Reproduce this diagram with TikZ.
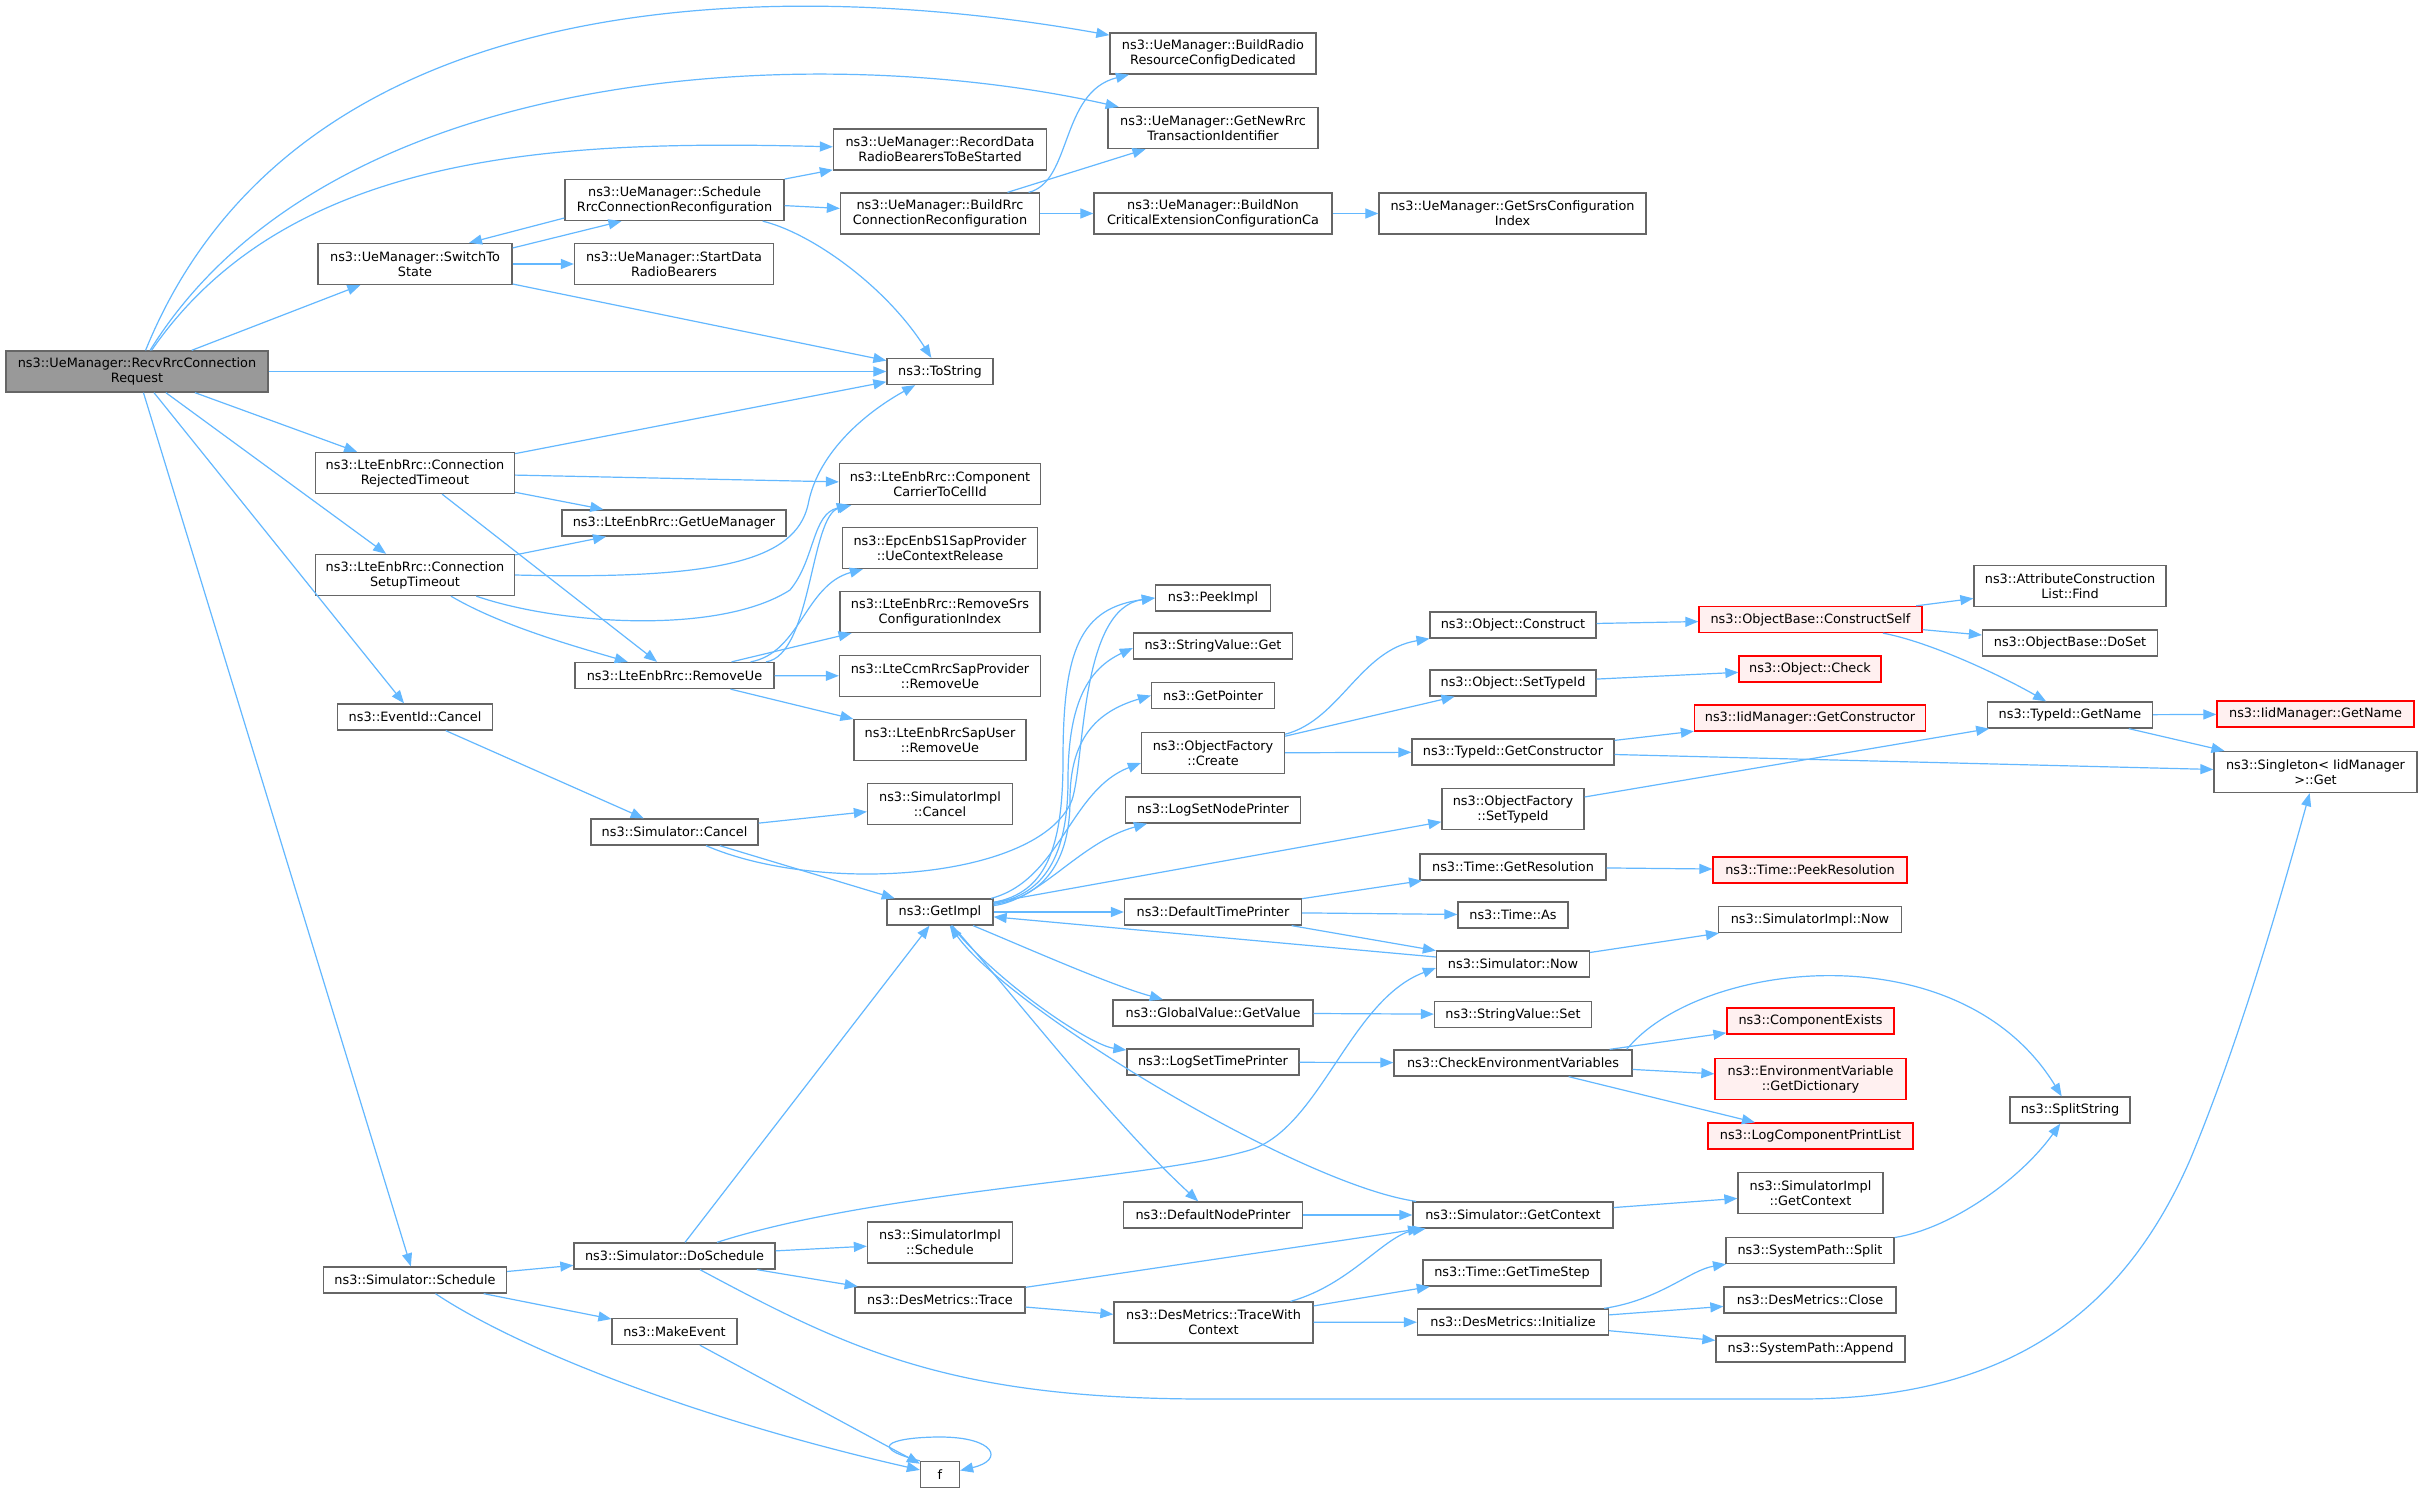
\documentclass[tikz,border=0pt]{standalone}
\usepackage{fontspec}
\setmainfont{DejaVu Sans}
\usetikzlibrary{arrows.meta}
\definecolor{edgec}{HTML}{63B8FF}
\definecolor{boxborder}{HTML}{666666}
\definecolor{mainfill}{HTML}{999999}
\definecolor{redfill}{HTML}{FFF0F0}
\definecolor{redborder}{HTML}{FF0000}
\begin{document}
\begin{tikzpicture}[x=1pt,y=-1pt,
  bx/.style={draw=boxborder, fill=white, line width=1.3pt, inner sep=0pt, align=center,
    minimum height=26pt, font=\fontsize{12.85}{15}\selectfont, text=black},
  wd/.style={minimum width=#1pt},
  tl/.style={minimum height=41pt},
  rd/.style={draw=redborder, fill=redfill},
  ln/.style={draw=edgec, line width=1.2pt, -{Triangle[length=13pt,width=10pt]}}]
\fill[white] (0,0) rectangle (2423,1493);
\useasboundingbox (0,0) rectangle (2423,1493);
% column 1
\node[bx, wd=262, tl, fill=mainfill] (R) at (137,371.5) {ns3::UeManager::RecvRrcConnection\\Request};
% column 2
\node[bx, wd=194, tl] (SW) at (415,264) {ns3::UeManager::SwitchTo\\State};
\node[bx, wd=199, tl] (CRT) at (415,473) {ns3::LteEnbRrc::Connection\\RejectedTimeout};
\node[bx, wd=199, tl] (CST) at (415,575) {ns3::LteEnbRrc::Connection\\SetupTimeout};
\node[bx, wd=155] (EC) at (415,717) {ns3::EventId::Cancel};
\node[bx, wd=183] (SS) at (415,1280) {ns3::Simulator::Schedule};
% column 3
\node[bx, wd=219, tl] (SR) at (674.5,200) {ns3::UeManager::Schedule\\RrcConnectionReconfiguration};
\node[bx, wd=199, tl] (SD) at (674,264) {ns3::UeManager::StartData\\RadioBearers};
\node[bx, wd=224] (GUM) at (674,523) {ns3::LteEnbRrc::GetUeManager};
\node[bx, wd=199] (RU) at (674.5,675.5) {ns3::LteEnbRrc::RemoveUe};
\node[bx, wd=167] (SC) at (674.5,832) {ns3::Simulator::Cancel};
\node[bx, wd=201] (DS) at (674.5,1256) {ns3::Simulator::DoSchedule};
\node[bx, wd=125] (ME) at (674.5,1331.5) {ns3::MakeEvent};
% column 4
\node[bx, wd=213, tl] (RD) at (940,149.5) {ns3::UeManager::RecordData\\RadioBearersToBeStarted};
\node[bx, wd=199, tl] (BR) at (940,213.5) {ns3::UeManager::BuildRrc\\ConnectionReconfiguration};
\node[bx, wd=106] (TS) at (940,371.5) {ns3::ToString};
\node[bx, wd=201, tl] (CC) at (940,484) {ns3::LteEnbRrc::Component\\CarrierToCellId};
\node[bx, wd=195, tl] (EPC) at (940,548) {ns3::EpcEnbS1SapProvider\\::UeContextRelease};
\node[bx, wd=200, tl] (RS) at (940,612) {ns3::LteEnbRrc::RemoveSrs\\ConfigurationIndex};
\node[bx, wd=201, tl] (LC) at (940,676) {ns3::LteCcmRrcSapProvider\\::RemoveUe};
\node[bx, wd=172, tl] (LU) at (940,740) {ns3::LteEnbRrcSapUser\\::RemoveUe};
\node[bx, wd=145, tl] (SIC) at (940,804) {ns3::SimulatorImpl\\::Cancel};
\node[bx, wd=106] (GI) at (940,912) {ns3::GetImpl};
\node[bx, wd=145, tl] (SIS) at (940,1242.5) {ns3::SimulatorImpl\\::Schedule};
\node[bx, wd=170] (DT) at (940,1300) {ns3::DesMetrics::Trace};
\node[bx, wd=39] (F) at (940,1474.5) {f};
% column 5
\node[bx, wd=206, tl] (BRRCD) at (1213,53.5) {ns3::UeManager::BuildRadio\\ResourceConfigDedicated};
\node[bx, wd=210, tl] (GNR) at (1213,128) {ns3::UeManager::GetNewRrc\\TransactionIdentifier};
\node[bx, wd=238, tl] (BN) at (1213,213.5) {ns3::UeManager::BuildNon\\CriticalExtensionConfigurationCa};
\node[bx, wd=115] (PI) at (1213,598) {ns3::PeekImpl};
\node[bx, wd=159] (SVG) at (1213,646) {ns3::StringValue::Get};
\node[bx, wd=123] (GP) at (1213,695.5) {ns3::GetPointer};
\node[bx, wd=143, tl] (OFC) at (1213,753) {ns3::ObjectFactory\\::Create};
\node[bx, wd=175] (LSNP) at (1213,810) {ns3::LogSetNodePrinter};
\node[bx, wd=177] (DTP) at (1213,912) {ns3::DefaultTimePrinter};
\node[bx, wd=200] (GV) at (1213,1013) {ns3::GlobalValue::GetValue};
\node[bx, wd=172] (LSTP) at (1213,1062) {ns3::LogSetTimePrinter};
\node[bx, wd=179] (DNP) at (1213,1215) {ns3::DefaultNodePrinter};
\node[bx, wd=199, tl] (TWC) at (1213.5,1322.5) {ns3::DesMetrics::TraceWith\\Context};
% column 6
\node[bx, wd=267, tl] (GS) at (1512.5,213.5) {ns3::UeManager::GetSrsConfiguration\\Index};
\node[bx, wd=166] (OC) at (1513,625) {ns3::Object::Construct};
\node[bx, wd=166] (OST) at (1513,683) {ns3::Object::SetTypeId};
\node[bx, wd=202] (TGC) at (1513,752) {ns3::TypeId::GetConstructor};
\node[bx, wd=142, tl] (OFS) at (1513,809) {ns3::ObjectFactory\\::SetTypeId};
\node[bx, wd=186] (TGR) at (1513,867) {ns3::Time::GetResolution};
\node[bx, wd=110] (TA) at (1513,915) {ns3::Time::As};
\node[bx, wd=153] (SN) at (1513,964) {ns3::Simulator::Now};
\node[bx, wd=157] (SVS) at (1513,1014.5) {ns3::StringValue::Set};
\node[bx, wd=238] (CEV) at (1513,1063) {ns3::CheckEnvironmentVariables};
\node[bx, wd=200] (SGC) at (1513,1215) {ns3::Simulator::GetContext};
\node[bx, wd=178] (TGT) at (1512,1273) {ns3::Time::GetTimeStep};
\node[bx, wd=191] (DI) at (1513,1322) {ns3::DesMetrics::Initialize};
% column 7
\node[bx, rd, wd=223] (CS) at (1810.5,619.5) {ns3::ObjectBase::ConstructSelf};
\node[bx, rd, wd=142] (OCK) at (1810,669) {ns3::Object::Check};
\node[bx, rd, wd=231] (IGC) at (1810,718) {ns3::IidManager::GetConstructor};
\node[bx, rd, wd=194] (TPR) at (1810,870) {ns3::Time::PeekResolution};
\node[bx, wd=183] (SIN) at (1810,919.5) {ns3::SimulatorImpl::Now};
\node[bx, rd, wd=167] (CE) at (1810.5,1021) {ns3::ComponentExists};
\node[bx, rd, wd=191, tl] (GD) at (1810.5,1079) {ns3::EnvironmentVariable\\::GetDictionary};
\node[bx, rd, wd=205] (LCP) at (1810.5,1136) {ns3::LogComponentPrintList};
\node[bx, wd=145, tl] (SIGC) at (1810.5,1193) {ns3::SimulatorImpl\\::GetContext};
\node[bx, wd=168] (SPS) at (1810,1250.5) {ns3::SystemPath::Split};
\node[bx, wd=172] (DMC) at (1810,1300) {ns3::DesMetrics::Close};
\node[bx, wd=189] (SPA) at (1810.5,1349) {ns3::SystemPath::Append};
% column 8
\node[bx, wd=192, tl] (ACF) at (2070,586) {ns3::AttributeConstruction\\List::Find};
\node[bx, wd=175] (DOS) at (2070,643) {ns3::ObjectBase::DoSet};
\node[bx, wd=165] (TGN) at (2070,715) {ns3::TypeId::GetName};
\node[bx, wd=120] (SPL) at (2070,1110) {ns3::SplitString};
% column 9
\node[bx, rd, wd=197] (IGN) at (2315.5,714) {ns3::IidManager::GetName};
\node[bx, wd=203, tl] (SG) at (2315.5,772) {ns3::Singleton< IidManager\\ >::Get};
% ---------- edges ----------
% RecvRrcConnectionRequest
\draw[ln] (R) .. controls (300,-30) and (800,-20) .. (BRRCD);
\draw[ln] (R) .. controls (330,60) and (820,40) .. (GNR);
\draw[ln] (R) .. controls (290,150) and (560,140) .. (RD);
\draw[ln] (R) -- (SW);
\draw[ln] (R) -- (TS);
\draw[ln] (R) -- (CRT);
\draw[ln] (R) -- (CST);
\draw[ln] (R) -- (EC);
\draw[ln] (R) -- (SS);
% SwitchToState
\draw[ln] ([yshift=16pt]SW.east) -- ([xshift=-53pt]SR.south);
\draw[ln] ([yshift=-18pt]SR.west) -- ([xshift=54pt]SW.north);
\draw[ln] (SW) -- (SD);
\draw[ln] (SW) -- (TS);
% ScheduleRrcConnectionReconfiguration
\draw[ln] (SR) -- (RD);
\draw[ln] (SR) -- (BR);
\draw[ln] (SR) .. controls (810,232.5) and (885,285) .. (TS);
% BuildRrcConnectionReconfiguration
\draw[ln] (BR) .. controls (1072,182) and (1060,92) .. (BRRCD);
\draw[ln] (BR) -- (GNR);
\draw[ln] (BR) -- (BN);
\draw[ln] (BN) -- (GS);
% ConnectionRejectedTimeout
\draw[ln] (CRT) -- (TS);
\draw[ln] (CRT) -- (CC);
\draw[ln] (CRT) -- (GUM);
\draw[ln] (CRT) -- (RU);
% ConnectionSetupTimeout
\draw[ln] (CST) -- (GUM);
\draw[ln] (CST.east) .. controls (720,580) and (795,560) .. (808,505) .. controls (818,450) and (870,410) .. (TS);
\draw[ln] (CST) .. controls (560,625) and (720,635) .. (790,590) .. controls (815,560) and (812,514) .. (CC);
\draw[ln] (CST) .. controls (500,625) and (570,645) .. (RU);
% RemoveUe
\draw[ln] (RU) .. controls (812,655) and (810,515) .. (CC);
\draw[ln] (RU) .. controls (800,653) and (805,585) .. (EPC);
\draw[ln] (RU) -- (RS);
\draw[ln] (RU) -- (LC);
\draw[ln] (RU) -- (LU);
% EventId::Cancel, Simulator::Cancel
\draw[ln] (EC) -- (SC);
\draw[ln] (SC) -- (SIC);
\draw[ln] (SC) -- (GI);
\draw[ln] (SC) .. controls (820,895) and (1040,880) .. (1072,800) .. controls (1085,760) and (1080,608) .. (PI.west);
% GetImpl
\draw[ln] (GI) .. controls (1045,893) and (1063,850) .. (1063,760) .. controls (1063,650) and (1080,608) .. (PI.west);
\draw[ln] (GI) .. controls (1045,895) and (1068,855) .. (1068,780) .. controls (1068,700) and (1090,668) .. ([yshift=-2pt]SVG.west);
\draw[ln] (GI) .. controls (1045,897) and (1070,860) .. (1070,800) .. controls (1070,740) and (1095,712) .. (GP.west);
\draw[ln] (GI) .. controls (1060,880) and (1070,790) .. ([yshift=-10pt]OFC.west);
\draw[ln] (GI) .. controls (1040,900) and (1080,842) .. ([xshift=-66pt]LSNP.south);
\draw[ln] (GI) -- (OFS);
\draw[ln] (GI) -- (DTP);
\draw[ln] (GI) .. controls (1020,945) and (1110,985) .. (GV);
\draw[ln] (GI) .. controls (1000,985) and (1090,1045) .. (LSTP);
\draw[ln] (GI) .. controls (1010,990) and (1110,1120) .. (DNP);
\draw[ln] (SN) -- (GI);
\draw[ln] (SGC) .. controls (1300,1185) and (1010,1010) .. (GI);
\draw[ln] (DS) -- (GI);
% DefaultTimePrinter and friends
\draw[ln] (DTP) -- (TGR);
\draw[ln] (DTP) -- (TA);
\draw[ln] (DTP) -- (SN);
\draw[ln] (SN) -- (SIN);
\draw[ln] (TGR) -- (TPR);
\draw[ln] (GV) -- (SVS);
\draw[ln] (LSTP) -- (CEV);
\draw[ln] (CEV) -- (CE);
\draw[ln] (CEV) -- (GD);
\draw[ln] (CEV) -- (LCP);
\draw[ln] ([xshift=-6pt]CEV.north east) .. controls (1700,960) and (1960,930) .. (SPL);
\draw[ln] (SGC) -- (SIGC);
\draw[ln] (DNP) -- (SGC);
% DoSchedule
\draw[ln] (DS) .. controls (880,1190) and (1150,1180) .. (1250,1150) .. controls (1320,1128) and (1350,1000) .. ([yshift=-4pt]SN.west);
\draw[ln] (DS) .. controls (850,1350) and (950,1398) .. (1200,1399) -- (1800,1399) .. controls (2000,1399) and (2120,1320) .. (2190,1160) .. controls (2240,1040) and (2280,900) .. (SG);
\draw[ln] (DS) -- (SIS);
\draw[ln] (DS) -- (DT);
% Simulator::Schedule
\draw[ln] (SS) -- (DS);
\draw[ln] (SS) -- (ME);
\draw[ln] (SS) .. controls (520,1350) and (700,1420) .. (F);
\draw[ln] (ME) -- (F);
\draw[ln] (F.north west) .. controls (860,1445) and (900,1437) .. (940,1437) .. controls (995,1437) and (1005,1460) .. ([yshift=4pt]F.east);
% DesMetrics
\draw[ln] (DT) -- (SGC);
\draw[ln] (DT) -- (TWC);
\draw[ln] (TWC) .. controls (1350,1285) and (1385,1235) .. (SGC);
\draw[ln] (TWC) -- (TGT);
\draw[ln] (TWC) -- (DI);
\draw[ln] (DI) .. controls (1660,1300) and (1690,1270) .. (SPS);
\draw[ln] (DI) -- (DMC);
\draw[ln] (DI) -- (SPA);
\draw[ln] (SPS) .. controls (1950,1229) and (2020,1180) .. (SPL);
% ObjectFactory
\draw[ln] (OFC) .. controls (1340,720) and (1360,650) .. (OC);
\draw[ln] (OFC) -- (OST);
\draw[ln] (OFC) -- (TGC);
\draw[ln] (OC) -- (CS);
\draw[ln] (OST) -- (OCK);
\draw[ln] (TGC) -- (IGC);
\draw[ln] (TGC) -- (SG);
\draw[ln] (OFS) -- (TGN);
\draw[ln] (CS) -- (ACF);
\draw[ln] (CS) -- (DOS);
\draw[ln] (CS) .. controls (1930,642) and (2000,675) .. (TGN);
\draw[ln] (TGN) -- (IGN);
\draw[ln] (TGN) -- (SG);
\end{tikzpicture}
\end{document}
